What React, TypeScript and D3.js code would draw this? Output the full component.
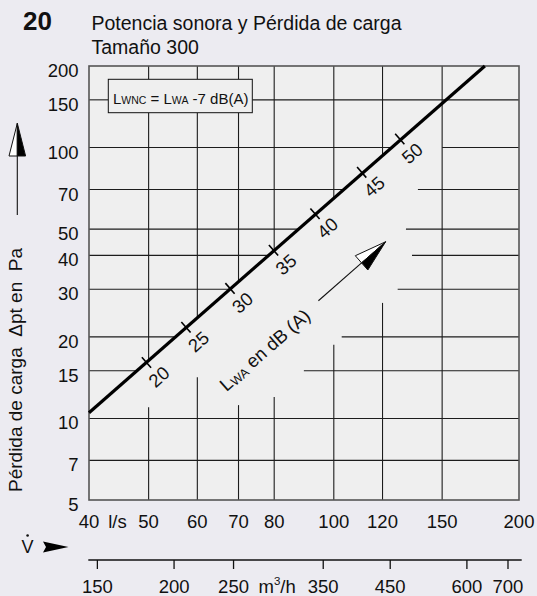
import React from "react";
import * as d3 from "d3";

// Flow (l/s) and pressure drop (Pa) axes
const flowTicks = [40, 50, 60, 70, 80, 100, 120, 150, 200];
const paTicks = [5, 7, 10, 15, 20, 30, 40, 50, 70, 100, 150, 200];
const m3hTicks = [150, 200, 250, 350, 450, 600, 700];

// Characteristic line of the unit, size 300
const lineFlow = [40, 176];
const linePa = [10.5, 200];

// Sound power marks along the characteristic
const dbLevels = [20, 25, 30, 35, 40, 45, 50];
const dbFlow = [49.6, 57.5, 67.8, 79.8, 93.2, 111, 128];
const dbPa = [16.1, 21.7, 30.2, 41.8, 57, 81, 107.5];

// Grid lines; the lower-right field is left open for the annotation
const vFullFlow = [150];
const vBrokenFlow = [50, 60, 70, 80, 100, 120];
const vResumePa = [11.0, 14.2, 11.2, 12.0, 18.7, 26.7];
const hFullPa = [150, 10, 7];
const hBrokenPa = [100, 70, 50, 40, 30, 20, 15];
const hResumeFlow = [150, 137, 131, 134, 127, 103, 89.4];

// Direction arrow beside the line (flow l/s, Pa)
const arrowFrom = [94.4, 27.2];
const arrowTo = [121.4, 44.9];
const labelAt = [66.9, 12.5];

const FONT = "'Liberation Sans', Arial, Helvetica, sans-serif";
const INK = "#111";

export default function App() {
  const W = 537;
  const H = 596;
  const L = 89, R = 519, T = 66, B = 500;
  const x = d3.scaleLog().domain([40, 200]).range([L, R]);
  const y = d3.scaleLog().domain([5, 200]).range([B, T]);
  const xm = d3.scaleLog().domain([144, 720]).range([86.5, 515.5]);

  const slope = Math.log(linePa[1] / linePa[0]) / Math.log(lineFlow[1] / lineFlow[0]);
  const paAt = (q: number) => linePa[0] * Math.pow(q / lineFlow[0], slope);
  const flowAt = (p: number) => lineFlow[0] * Math.pow(p / linePa[0], 1 / slope);

  // legend box
  const box = { x0: 108.3, y0: 79.3, x1: 252.3, y1: 112.7 };

  type Seg = [number, number, number, number];
  const segs: Seg[] = [];
  const addV = (xx: number, ya: number, yb: number) => {
    if (xx > box.x0 && xx < box.x1 && ya < box.y1 && yb > box.y0) {
      if (ya < box.y0) segs.push([xx, ya, xx, box.y0]);
      if (yb > box.y1) segs.push([xx, box.y1, xx, yb]);
    } else segs.push([xx, ya, xx, yb]);
  };
  const addH = (yy: number, xa: number, xb: number) => {
    if (yy > box.y0 && yy < box.y1 && xa < box.x1 && xb > box.x0) {
      if (xa < box.x0) segs.push([xa, yy, box.x0, yy]);
      if (xb > box.x1) segs.push([box.x1, yy, xb, yy]);
    } else segs.push([xa, yy, xb, yy]);
  };
  vFullFlow.forEach((f) => addV(x(f), T, B));
  vBrokenFlow.forEach((f, i) => {
    addV(x(f), T, y(paAt(f)));
    addV(x(f), y(vResumePa[i]), B);
  });
  hFullPa.forEach((p) => addH(y(p), L, R));
  hBrokenPa.forEach((p, i) => {
    addH(y(p), L, x(flowAt(p)));
    addH(y(p), x(hResumeFlow[i]), R);
  });

  const linePath = d3.line<number>()
    .x((d, i) => x(lineFlow[i]))
    .y((d, i) => y(linePa[i]))(lineFlow.map((_, i) => i)) as string;

  const lx0 = x(lineFlow[0]), ly0 = y(linePa[0]);
  const lx1 = x(lineFlow[1]), ly1 = y(linePa[1]);
  const len = Math.hypot(lx1 - lx0, ly1 - ly0);
  const ux = (lx1 - lx0) / len, uy = (ly1 - ly0) / len;
  const nx = -uy, ny = ux; // points down-right
  const ang = (Math.atan2(uy, ux) * 180) / Math.PI;

  // diagonal arrow
  const ax0 = x(arrowFrom[0]), ay0 = y(arrowFrom[1]);
  const ax1 = x(arrowTo[0]), ay1 = y(arrowTo[1]);
  const aLen = Math.hypot(ax1 - ax0, ay1 - ay0);
  const aux = (ax1 - ax0) / aLen, auy = (ay1 - ay0) / aLen;
  const anx = -auy, any = aux;
  const headL = 32, headW = 9.5;
  const bx = ax1 - aux * headL, by = ay1 - auy * headL;
  const whiteHalf = `M${ax1},${ay1}L${bx - anx * headW},${by - any * headW}L${bx},${by}Z`;
  const blackHalf = `M${ax1},${ay1}L${bx + anx * headW},${by + any * headW}L${bx},${by}Z`;

  const lab = [x(labelAt[0]), y(labelAt[1])];

  return (
    <div style={{ position: "absolute", left: 0, top: 0 }}>
      <svg width={W} height={H} viewBox={`0 0 ${W} ${H}`} style={{ display: "block" }} fontFamily={FONT}>
        <rect x={0} y={0} width={W} height={H} fill="#ECEBF1" />

        {/* title */}
        <text x={23} y={30} fontSize={26} fontWeight="bold" fill={INK}>20</text>
        <text x={91.5} y={30} fontSize={19.5} fill={INK}>Potencia sonora y Pérdida de carga</text>
        <text x={91.5} y={54} fontSize={19.5} fill={INK}>Tamaño 300</text>

        {/* plot field */}
        <rect x={L} y={T} width={R - L} height={B - T} fill="#EFEFEF" />
        <g stroke="#1c1c1c" strokeWidth={1.1} fill="none">
          {segs.map((s, i) => (
            <line key={i} x1={s[0]} y1={s[1]} x2={s[2]} y2={s[3]} />
          ))}
        </g>
        <rect x={L} y={T} width={R - L} height={B - T} fill="none" stroke="#555" strokeWidth={1.6} />

        {/* legend */}
        <rect x={box.x0} y={box.y0} width={box.x1 - box.x0} height={box.y1 - box.y0} fill="#EFEFEF" stroke={INK} strokeWidth={1} />
        <text x={113} y={103.5} fontSize={15} fill={INK}>
          L<tspan fontSize={10.5}>WNC</tspan>
          {" = L"}
          <tspan fontSize={10.5}>WA</tspan>
          {" -7 dB(A)"}
        </text>

        {/* characteristic */}
        <path d={linePath} stroke="#000" strokeWidth={3.2} fill="none" />
        {dbLevels.map((lv, i) => {
          const px = x(dbFlow[i]);
          const py = y(dbPa[i]);
          return (
            <g key={lv}>
              <line x1={px - nx * 7} y1={py - ny * 7} x2={px + nx * 7} y2={py + ny * 7} stroke="#000" strokeWidth={1.6} />
              <text
                x={px + nx * 19}
                y={py + ny * 19}
                fontSize={18.5}
                fill={INK}
                textAnchor="middle"
                dominantBaseline="central"
                transform={`rotate(${ang} ${px + nx * 19} ${py + ny * 19})`}
              >
                {lv}
              </text>
            </g>
          );
        })}

        {/* direction arrow and its label */}
        <line x1={ax0} y1={ay0} x2={bx} y2={by} stroke={INK} strokeWidth={1.1} />
        <path d={whiteHalf} fill="#fff" stroke={INK} strokeWidth={1} strokeLinejoin="round" />
        <path d={blackHalf} fill="#000" stroke={INK} strokeWidth={1} strokeLinejoin="round" />
        <text x={lab[0]} y={lab[1]} fontSize={18.5} fill={INK} transform={`rotate(${ang} ${lab[0]} ${lab[1]})`}>
          L<tspan fontSize={12.5} dy={1.5}>WA</tspan>
          <tspan dy={-1.5}>{" en dB (A)"}</tspan>
        </text>

        {/* y ticks */}
        {paTicks.map((p) => (
          <text key={p} x={78.5} y={y(p) + 11} fontSize={18.5} textAnchor="end" fill={INK}>
            {p}
          </text>
        ))}

        {/* l/s ticks */}
        {flowTicks.map((f) => (
          <text key={f} x={x(f)} y={528} fontSize={18.5} textAnchor="middle" fill={INK}>
            {f}
          </text>
        ))}
        <text x={117.5} y={528} fontSize={18.5} textAnchor="middle" fill={INK}>l/s</text>

        {/* m3/h scale */}
        <line x1={88.3} y1={560} x2={521.7} y2={560} stroke={INK} strokeWidth={1.3} />
        {m3hTicks.map((m) => (
          <g key={m}>
            <line x1={xm(m)} y1={560} x2={xm(m)} y2={569} stroke={INK} strokeWidth={1.3} />
            <text x={xm(m)} y={592.5} fontSize={18.5} textAnchor="middle" fill={INK}>
              {m}
            </text>
          </g>
        ))}
        <text x={258.5} y={592.5} fontSize={18.5} fill={INK}>
          m<tspan fontSize={11.5} dy={-8}>3</tspan>
          <tspan dy={8}>/h</tspan>
        </text>

        {/* V-dot flow symbol */}
        <text x={21.5} y={553} fontSize={18} fill={INK}>V</text>
        <circle cx={27.6} cy={535.5} r={1.3} fill={INK} />
        <path d="M43,541.5L68.5,547L43,552.5L46,547Z" fill="#000" />

        {/* y axis title with arrow */}
        <text
          x={0}
          y={0}
          fontSize={19}
          fill={INK}
          transform="translate(21.5 492) rotate(-90)"
          style={{ whiteSpace: "pre" }}
        >
          {"Pérdida de carga  Δpt en  Pa"}
        </text>
        <line x1={17.3} y1={156} x2={17.3} y2={215} stroke={INK} strokeWidth={1.1} />
        <path d="M17.3,123.3L9,156L17.3,156Z" fill="#fff" stroke={INK} strokeWidth={1} strokeLinejoin="round" />
        <path d="M17.3,123.3L25.6,156L17.3,156Z" fill="#000" stroke={INK} strokeWidth={1} strokeLinejoin="round" />
      </svg>
    </div>
  );
}
